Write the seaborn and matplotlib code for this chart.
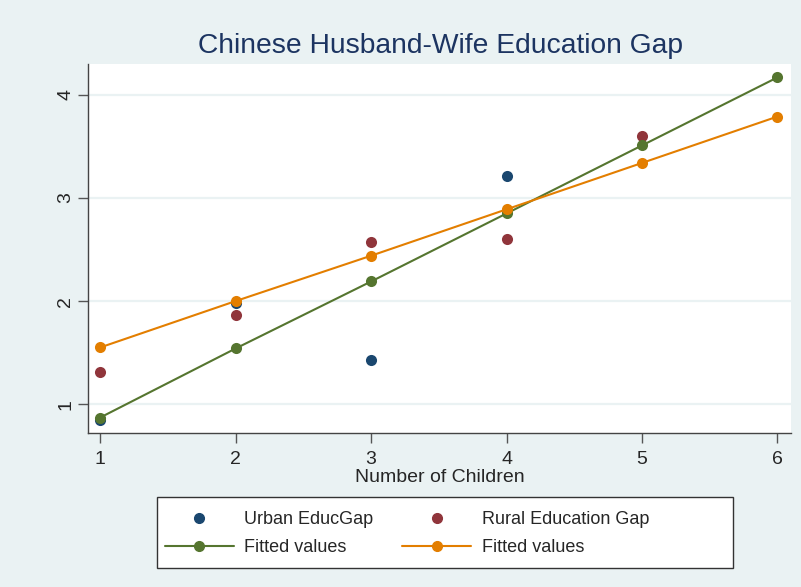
import matplotlib.pyplot as plt
from matplotlib.lines import Line2D
from matplotlib.patches import Rectangle
import seaborn as sns

# values
urban_x = [1, 2, 3, 4]
urban_gap = [0.85, 1.98, 1.43, 3.21]
rural_x = [1, 2, 3, 4, 5]
rural_gap = [1.31, 1.86, 2.57, 2.60, 3.60]
fit_x = [1, 2, 3, 4, 5, 6]
urban_fit = [0.87, 1.54, 2.19, 2.85, 3.51, 4.17]
rural_fit = [1.55, 2.00, 2.44, 2.89, 3.34, 3.79]
x_ticks = [1, 2, 3, 4, 5, 6]
y_ticks = [1, 2, 3, 4]

NAVY = '#1a476f'
MAROON = '#90353b'
GREEN = '#55752f'
ORANGE = '#e37e00'
BG = '#eaf2f3'
TITLE_COL = '#1c3461'

sns.set_style('white')
plt.rcParams['font.family'] = ['Liberation Sans', 'DejaVu Sans']

W, H = 801, 587
fig = plt.figure(figsize=(W / 100, H / 100), dpi=100, facecolor=BG)
ax = fig.add_axes([88 / W, 1 - 433 / H, (791 - 88) / W, (433 - 64) / H])
ax.set_facecolor('white')

# grid lines
for y in y_ticks:
    ax.axhline(y, color=BG, linewidth=1.6, zorder=0)

sns.scatterplot(x=urban_x, y=urban_gap, ax=ax, color=NAVY, s=64,
                linewidth=0, zorder=2)
sns.scatterplot(x=rural_x, y=rural_gap, ax=ax, color=MAROON, s=64,
                linewidth=0, zorder=2)
sns.lineplot(x=fit_x, y=urban_fit, ax=ax, color=GREEN, linewidth=1.5,
             marker='o', markersize=8, markeredgewidth=0, zorder=3)
sns.lineplot(x=fit_x, y=rural_fit, ax=ax, color=ORANGE, linewidth=1.5,
             marker='o', markersize=8, markeredgewidth=0, zorder=4)

ax.set_xlim(0.91, 6.1)
ax.set_ylim(0.72, 4.3)
ax.set_xticks(x_ticks)
ax.set_yticks(y_ticks)
ax.tick_params(axis='both', direction='out', length=7, width=1, color='#555555',
               labelsize=14, pad=3, bottom=True, left=True)
ax.tick_params(axis='x', pad=6)
for lab in ax.get_yticklabels():
    lab.set_rotation(90)
    lab.set_va('center')
for s in ['top', 'right']:
    ax.spines[s].set_visible(False)
for s in ['left', 'bottom']:
    ax.spines[s].set_color('#444444')
    ax.spines[s].set_linewidth(1)

ax.set_xlabel('Number of Children', fontsize=14, labelpad=1)
ax.set_ylabel('')
fig.text(440 / W, 1 - 46 / H, 'Chinese Husband-Wife Education Gap',
         ha='center', va='center', fontsize=20.3, color=TITLE_COL)

# legend box
fig.patches.append(Rectangle((157 / W, 1 - 568 / H), (733 - 157) / W, (568 - 497) / H,
                             transform=fig.transFigure, facecolor='white',
                             edgecolor='#333333', linewidth=1, zorder=0))

handles = [
    Line2D([], [], linestyle='none', marker='o', color=NAVY, markersize=7),
    Line2D([], [], color=GREEN, marker='o', markersize=7, linewidth=1.5),
    Line2D([], [], linestyle='none', marker='o', color=MAROON, markersize=7),
    Line2D([], [], color=ORANGE, marker='o', markersize=7, linewidth=1.5),
]
labels = ['Urban EducGap', 'Fitted values', 'Rural Education Gap', 'Fitted values']
leg = fig.legend(handles, labels, ncol=2, loc='upper left',
                 bbox_to_anchor=(165 / W, 1 - 511 / H),
                 fontsize=13, frameon=False, handlelength=3.8,
                 borderpad=0, borderaxespad=0, labelspacing=0.62,
                 handletextpad=0.6, columnspacing=1.6)

fig.savefig('out.png', dpi=100, facecolor=BG)
